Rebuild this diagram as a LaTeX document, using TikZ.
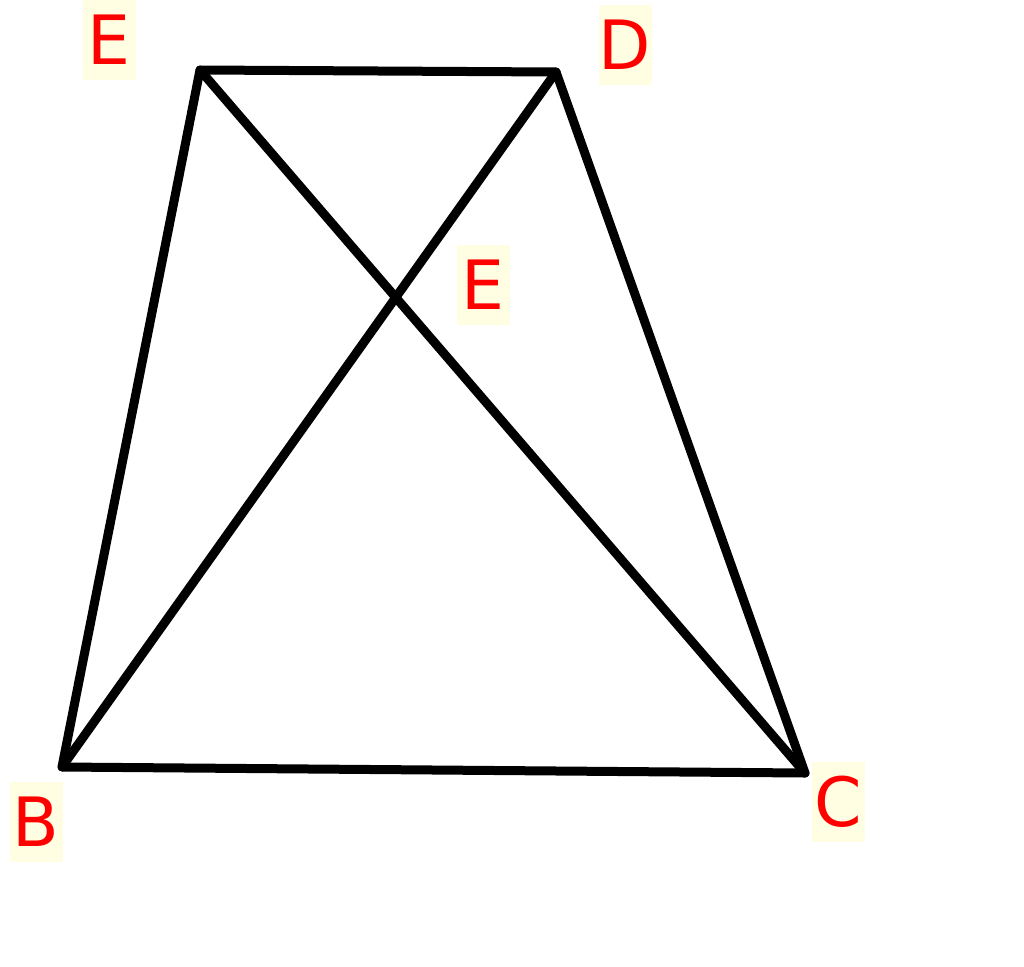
\documentclass[tikz,border=0pt]{standalone}
\usepackage{fontspec}
\setmainfont{DejaVu Sans}
\definecolor{labelbg}{RGB}{255,253,226}
\definecolor{labelred}{RGB}{255,0,0}
\tikzset{
    vlabel/.style={fill=labelbg, text=labelred, inner sep=0pt,
        minimum width=53pt, minimum height=80pt,
        font=\fontsize{68}{68}\selectfont},
    edge/.style={line width=9pt, line cap=round, line join=round}
}

\begin{document}
\begin{tikzpicture}[x=1pt,y=-1pt]
        \useasboundingbox (0,0) rectangle (1024,966);
        % Vertices:
        \coordinate (E) at (200,70);
        \coordinate (D) at (556,72);
        \coordinate (B) at (62,767);
        \coordinate (C) at (805,773);

        % Labels:
        \node [vlabel] (lblEtop) at (109,40)  {E};
        \node [vlabel] (lblD)    at (625,45)  {D};
        \node [vlabel] (lblEmid) at (483,285) {E};
        \node [vlabel] (lblB)    at (36,822)  {B};
        \node [vlabel] (lblC)    at (838,802) {C};

        \begin{scope}[edge]
        % Sides:
        \draw (E) -- (D) -- (C) -- (B) -- cycle;
        % Diagonals:
        \draw (E) -- (C);
        \draw (B) -- (D);
        \end{scope}
    \end{tikzpicture}
\end{document}
